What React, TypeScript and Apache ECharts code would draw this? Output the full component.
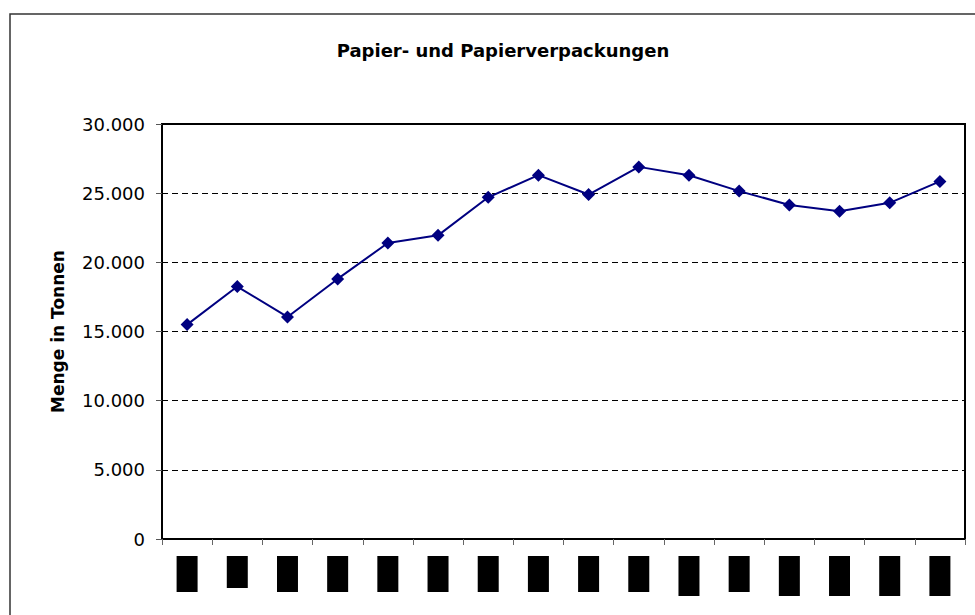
import React, { useEffect, useRef } from "react";
import * as echarts from "echarts";

const chartTitle = "Papier- und Papierverpackungen";
const yAxisTitle = "Menge in Tonnen";
// x-axis labels are blacked out in the reference; one entry per category
const categories = ["K1", "K2", "K3", "K4", "K5", "K6", "K7", "K8", "K9", "K10", "K11", "K12", "K13", "K14", "K15", "K16"];
const redactedLabelHeights = [36, 32, 36, 36, 36, 36, 36, 36, 36, 36, 40, 36, 40, 40, 40, 40];
const tonnes = [15500, 18250, 16050, 18800, 21400, 21950, 24700, 26300, 24900, 26900, 26300, 25150, 24150, 23700, 24300, 25850];
const yMin = 0;
const yMax = 30000;
const yStep = 5000;

const FONT = '"DejaVu Sans", Arial, sans-serif';

export default function App() {
  const ref = useRef<HTMLDivElement>(null);
  useEffect(() => {
    if (!ref.current) return;
    const chart = echarts.init(ref.current, undefined, { renderer: "svg" });
    const rich: Record<string, any> = {};
    redactedLabelHeights.forEach((h) => {
      rich["h" + h] = { width: 21, height: h, backgroundColor: "#000", color: "#000", fontSize: 10, lineHeight: h };
    });
    chart.setOption({
      animation: false,
      backgroundColor: "#fff",
      title: {
        text: chartTitle,
        left: 498,
        top: 36,
        textAlign: "center",
        textStyle: { fontFamily: FONT, fontWeight: "bold", fontSize: 18, color: "#000" },
      },
      graphic: [
        {
          type: "rect",
          shape: { x: 10, y: 14, width: 1000, height: 700 },
          style: { fill: "none", stroke: "#333", lineWidth: 1.5 },
          silent: true,
          z: -1,
        },
      ],
      grid: {
        left: 162,
        right: 10,
        top: 124,
        bottom: 76,
        show: true,
        borderColor: "#000",
        borderWidth: 2,
        containLabel: false,
      },
      xAxis: {
        type: "category",
        data: categories,
        boundaryGap: true,
        axisLine: { lineStyle: { color: "#000", width: 2 } },
        axisTick: { show: true, inside: false, length: 6, alignWithLabel: false, lineStyle: { color: "#666", width: 1 } },
        axisLabel: {
          interval: 0,
          margin: 17,
          formatter: (_v: string, i: number) => `{h${redactedLabelHeights[i]}|\u00a0}`,
          rich,
        },
        splitLine: { show: false },
      },
      yAxis: {
        type: "value",
        min: yMin,
        max: yMax,
        interval: yStep,
        name: yAxisTitle,
        nameLocation: "middle",
        nameRotate: 90,
        nameGap: 96,
        nameTextStyle: { fontFamily: FONT, fontWeight: "bold", fontSize: 17, color: "#000" },
        axisLine: { show: true, lineStyle: { color: "#000", width: 2 } },
        axisTick: { show: true, length: 6, lineStyle: { color: "#555", width: 1 } },
        axisLabel: {
          margin: 17,
          fontFamily: FONT,
          fontSize: 18,
          color: "#000",
          formatter: (v: number) => v.toLocaleString("de-DE"),
        },
        splitLine: { show: true, lineStyle: { color: "#000", type: [6, 4], width: 1 } },
      },
      series: [
        {
          type: "line",
          data: tonnes,
          symbol: "diamond",
          symbolSize: 13,
          itemStyle: { color: "#000080" },
          lineStyle: { color: "#000080", width: 2 },
        },
      ],
    });
    return () => chart.dispose();
  }, []);
  return <div ref={ref} style={{ position: "fixed", left: 0, top: 0, width: 975, height: 615, background: "#fff" }} />;
}
